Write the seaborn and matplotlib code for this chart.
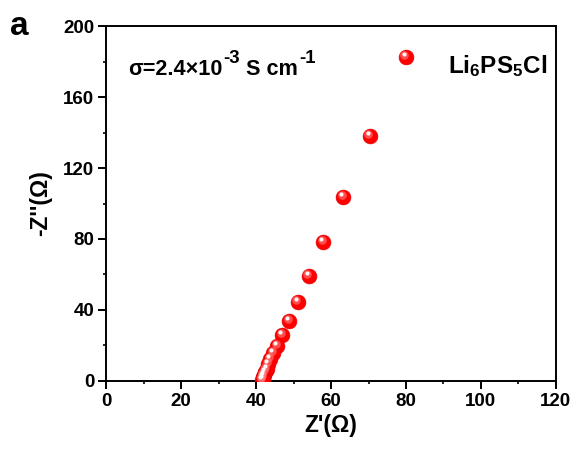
import matplotlib
matplotlib.use("Agg")
import matplotlib.pyplot as plt
import matplotlib.transforms as mtransforms
from matplotlib.ticker import MultipleLocator
import seaborn as sns
import pandas as pd

# Nyquist data for Li6PS5Cl (ohm)
z_real = [70.3, 63.3, 57.9, 54.1, 51.1, 48.9, 47.0, 45.6, 44.6, 43.8,
          43.2, 42.8, 42.4, 42.1, 41.9, 41.8, 41.7]
z_imag = [138.2, 103.8, 78.1, 59.2, 44.7, 33.8, 25.9, 19.7, 15.5, 12.1,
          9.3, 7.0, 5.1, 3.4, 2.1, 1.1, 0.6]
sample_label = "Li$_6$PS$_5$Cl"
x_ticks = [0, 20, 40, 60, 80, 100, 120]
y_ticks = [0, 40, 80, 120, 160, 200]

sns.set_style("white")
plt.rcParams["font.family"] = ["Liberation Sans", "DejaVu Sans"]
plt.rcParams["font.weight"] = "bold"
plt.rcParams["mathtext.default"] = "regular"
plt.rcParams["text.color"] = "black"
plt.rcParams["axes.labelcolor"] = "black"
plt.rcParams["xtick.color"] = "black"
plt.rcParams["ytick.color"] = "black"

df = pd.DataFrame({"Zre": z_real, "Zim": z_imag})

fig = plt.figure(figsize=(5.79, 4.5), dpi=100)
ax = fig.add_axes([0.1835, 0.1535, 0.7765, 0.7885])

RED = "#ff0000"
sns.scatterplot(data=df, x="Zre", y="Zim", ax=ax, s=115, color=RED,
                edgecolor="#e00000", linewidth=0.4, label=sample_label,
                zorder=3)


def add_gloss(xs, ys, base_transform, zorder, clip=True):
    """Draw a soft highlight on each sphere-like marker."""
    t1 = mtransforms.offset_copy(base_transform, fig=fig, x=-1.5, y=2.0, units="dots")
    t2 = mtransforms.offset_copy(base_transform, fig=fig, x=-2.0, y=3.0, units="dots")
    ax.scatter(xs, ys, s=38, color="#ff8080", alpha=0.6, linewidth=0,
               transform=t1, zorder=zorder, clip_on=clip)
    ax.scatter(xs, ys, s=9, color="white", alpha=0.95, linewidth=0,
               transform=t2, zorder=zorder + 0.1, clip_on=clip)


add_gloss(df["Zre"], df["Zim"], ax.transData, 4)

ax.set_xlim(0, 120)
ax.set_ylim(0, 200)
ax.set_xticks(x_ticks)
ax.set_yticks(y_ticks)
ax.xaxis.set_minor_locator(MultipleLocator(10))
ax.yaxis.set_minor_locator(MultipleLocator(20))
ax.tick_params(which="major", direction="out", length=5.5, width=1.4,
               labelsize=13.5, bottom=True, left=True, top=False, right=False, pad=3)
ax.tick_params(which="minor", direction="out", length=2.5, width=1.2,
               bottom=True, left=True, top=False, right=False)
for lbl in ax.get_xticklabels() + ax.get_yticklabels():
    lbl.set_fontweight("bold")
for sp in ax.spines.values():
    sp.set_linewidth(1.4)
    sp.set_color("black")

ax.set_xlabel("Z'(Ω)", fontsize=16.5, fontweight="bold", labelpad=3)
ax.set_ylabel("-Z''(Ω)", fontsize=16.5, fontweight="bold", labelpad=8)

# conductivity annotation, built piece by piece so superscripts stay large
main_fs, sup_fs = 15.6, 13.4
t_a = ax.text(0.048, 0.862, "σ=2.4×10", transform=ax.transAxes,
              fontsize=main_fs, fontweight="bold", ha="left", va="baseline")
t_b = ax.annotate("-3", xy=(1, 0.6), xycoords=t_a, xytext=(1, 0),
                  textcoords="offset points", fontsize=sup_fs,
                  fontweight="bold", ha="left", va="bottom")
t_c = ax.annotate(" S cm", xy=(1, 0), xycoords=(t_b, t_a), xytext=(0, 0),
                  textcoords="offset points", fontsize=main_fs,
                  fontweight="bold", ha="left", va="bottom")
t_d = ax.annotate("-1", xy=(1, 0.6), xycoords=(t_c, t_a), xytext=(1, 0),
                  textcoords="offset points", fontsize=sup_fs,
                  fontweight="bold", ha="left", va="bottom")

leg = ax.legend(loc="upper right", frameon=False, fontsize=17.5,
                bbox_to_anchor=(1.0, 0.949), handletextpad=0.75,
                borderaxespad=0.0, borderpad=0.35, scatteryoffsets=[0.91])
leg.set_zorder(5)
for t in leg.get_texts():
    t.set_fontweight("bold")

fig.text(0.017, 0.922, "a", fontsize=24, fontweight="bold",
         ha="left", va="baseline")

# add the same highlight to the legend marker
fig.canvas.draw()
handle = leg.legend_handles[0]
disp = handle.get_offset_transform().transform(handle.get_offsets())
axpos = ax.transAxes.inverted().transform(disp)
add_gloss(axpos[:, 0], axpos[:, 1], ax.transAxes, 6, clip=False)

fig.savefig("out.png", dpi=100)
